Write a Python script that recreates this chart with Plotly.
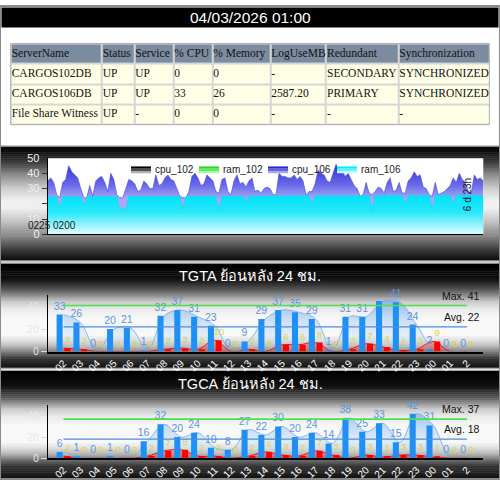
import plotly.graph_objects as go

W, H = 500, 485

# ---------------- data ----------------
title_text = "04/03/2026 01:00"

table_header = ["ServerName", "Status", "Service", "% CPU", "% Memory",
                "LogUseMB", "Redundant", "Synchronization"]
table_rows = [
    ["CARGOS102DB", "UP", "UP", "0", "0", "-", "SECONDARY", "SYNCHRONIZED"],
    ["CARGOS106DB", "UP", "UP", "33", "26", "2587.20", "PRIMARY", "SYNCHRONIZED"],
    ["File Share Witness", "UP", "-", "0", "0", "-", "-", "-"],
]

legend_names = ["cpu_102", "ram_102", "cpu_106", "ram_106"]
time_left_label = "0225 0200"
time_right_label = "6 d 23h"

cpu_106 = [35, 37, 34, 26, 24, 34, 36, 45, 41, 39, 37, 30, 24, 24, 32, 25, 35, 37, 38, 34,
           28, 40, 36, 26, 24, 24, 30, 36, 35, 33, 28, 29, 35, 33, 30, 30, 39, 32, 33, 37,
           39, 36, 35, 30, 25, 24, 24, 28, 38, 40, 37, 32, 33, 39, 37, 35, 28, 27, 36, 37,
           28, 26, 35, 39, 33, 34, 31, 35, 37, 28, 29, 27, 30, 31, 30, 26, 26, 40, 38, 38,
           37, 37, 39, 36, 38, 35, 26, 28, 28, 33, 42, 40, 39, 35, 34, 40, 46, 40, 42, 38,
           40, 36, 32, 30, 25, 26, 34, 27, 26, 28, 31, 30, 27, 34, 37, 28, 29, 34, 27, 27,
           35, 37, 41, 38, 39, 31, 30, 26, 25, 34, 26, 27, 28, 30, 32, 37, 34, 40, 36, 34,
           28, 27, 39, 36, 37, 35]

ram_106_idx = [0, 3, 4, 5, 11, 12, 13, 23, 24, 26, 27, 44, 45, 46, 56, 57, 58, 65, 66, 67,
               87, 88, 89, 107, 108, 109, 118, 119, 120, 127, 128, 129, 134, 135, 136, 145]
ram_106 = [24.5, 24.5, 17.5, 24.5, 24.6, 18.5, 24.6, 24.7, 16.5, 16.5, 24.7, 24.8, 16.5, 24.8,
           24.9, 15.5, 24.9, 25.0, 21.0, 25.0, 25.2, 19.7, 25.2, 25.3, 15.8, 25.3, 25.4, 19.7,
           25.4, 25.5, 16.0, 25.5, 25.5, 19.7, 25.5, 25.5]

hours = ["02", "03", "04", "05", "06", "07", "08", "09", "10", "11", "12", "13", "14",
         "15", "16", "17", "18", "19", "20", "21", "22", "23", "00", "01", "2"]

tgta_title = "TGTA ย้อนหลัง 24 ชม."
tgta_total = [33, 26, 0, 20, 21, 1, 32, 37, 31, 23, 0, 9, 29, 37, 35, 29, 1, 31, 31, 45, 44, 24, 2, 0, 0]
tgta_total_labels = ["33", "26", "0", "20", "21", "1", "32", "37", "31", "23", "0", "9", "29",
                     "37", "35", "29", "1", "31", "31", "", "41", "24", "2", "0", "0"]
tgta_fail = [3, 2, 0, 0, 0, 0, 2, 3, 2, 10, 0, 2, 0, 6, 6, 8, 0, 2, 7, 4, 1, 2, 9, 0, 0]
tgta_max, tgta_avg = 41, 22

tgca_title = "TGCA ย้อนหลัง 24 ชม."
tgca_total = [6, 1, 0, 1, 0, 16, 32, 20, 24, 10, 8, 27, 22, 30, 20, 24, 14, 38, 25, 33, 15, 42, 31, 0, 0]
tgca_fail = [2, 0, 0, 0, 0, 2, 7, 8, 2, 2, 0, 2, 6, 3, 2, 7, 3, 0, 3, 1, 3, 3, 1, 0, 0]
tgca_max, tgca_avg = 37, 18

# ---------------- helpers ----------------
def px(x):
    return x / W


def py(y):
    return 1 - y / H


FONT = "Liberation Sans, Arial, DejaVu Sans, Noto Sans, sans-serif"
SERIF = "Liberation Serif, Times New Roman, serif"

shapes = []
annotations = []


def gradient(y_top, y_bot, stops, step=2):
    y = y_top
    while y < y_bot:
        yc = y + step / 2
        g = stops[-1][1]
        for (a0, g0), (a1, g1) in zip(stops, stops[1:]):
            if a0 <= yc <= a1:
                g = g0 + (g1 - g0) * (yc - a0) / (a1 - a0)
                break
        g = int(round(g))
        shapes.append(dict(type="rect", xref="paper", yref="paper", layer="below",
                           x0=0, x1=1, y0=py(min(y + step + 0.6, y_bot)), y1=py(y),
                           fillcolor=f"rgb({g},{g},{g})", line=dict(width=0)))
        y += step


# outer page pieces
shapes.append(dict(type="rect", xref="paper", yref="paper", layer="below",
                   x0=px(1.5), x1=px(498.5), y0=py(22), y1=py(1.5),
                   fillcolor="black", line=dict(width=0)))

# panel backgrounds
gradient(144, 261, [(144, 5), (150, 15), (160, 60), (173, 140), (187, 205), (200, 240),
                    (207, 240), (220, 200), (237, 130), (250, 60), (261, 10)])
gradient(264, 371, [(264, 0), (280, 16), (290, 80), (297, 144), (303, 200), (310, 232),
                    (320, 248), (337, 248), (343, 224), (350, 176), (357, 96), (363, 48),
                    (371, 16)])
gradient(374, 485, [(374, 0), (390, 16), (400, 80), (407, 144), (413, 200), (420, 232),
                    (430, 248), (447, 248), (453, 224), (460, 176), (467, 96), (473, 48),
                    (485, 16)])
for (t, b) in [(143.5, 261.5), (263.5, 371.5), (373.5, 485)]:
    shapes.append(dict(type="rect", xref="paper", yref="paper", layer="below",
                       x0=px(0.5), x1=px(499.5), y0=py(b), y1=py(t),
                       fillcolor="rgba(0,0,0,0)", line=dict(color="#9A9A9A", width=1)))

shapes.append(dict(type="rect", xref="paper", yref="paper", layer="above",
                   x0=0, x1=1, y0=0, y1=1,
                   fillcolor="rgba(0,0,0,0)", line=dict(color="#8A8A8A", width=2)))

annotations.append(dict(text=title_text, xref="paper", yref="paper", x=0.5, y=py(12),
                        xanchor="center", yanchor="middle", showarrow=False,
                        font=dict(family=FONT, size=15.5, color="white")))

fig = go.Figure()

# ---------------- table (x4 / y6) ----------------
col_widths = [91, 32.6, 39, 39, 58, 55.7, 72.3, 91]
edges = [0]
for w_ in col_widths:
    edges.append(edges[-1] + w_)
all_rows = [table_header] + table_rows
zflag = [[1 if r == 0 else 0 for _ in table_header] for r in range(len(all_rows))]
shapes.append(dict(type="rect", xref="x4 domain", yref="y6 domain", layer="below",
                   x0=0, x1=1, y0=0, y1=1, fillcolor="#D6D6D6",
                   line=dict(color="#AEAEAE", width=1)))
fig.add_trace(go.Heatmap(x=edges, y=list(range(len(all_rows))), z=zflag,
                         colorscale=[[0, "#FFFFE6"], [1, "#7B8CA1"]], zmin=0, zmax=1,
                         showscale=False, xgap=2, ygap=2, hoverinfo="skip",
                         xaxis="x4", yaxis="y6"))
tx, ty, tt = [], [], []
for r, row in enumerate(all_rows):
    for c, val in enumerate(row):
        tx.append(edges[c] + 1)
        ty.append(r)
        tt.append(val)
fig.add_trace(go.Scatter(x=tx, y=ty, text=tt, mode="text", textposition="middle right",
                         textfont=dict(family=SERIF, size=11.5, color="#111111"),
                         hoverinfo="skip", xaxis="x4", yaxis="y6"))

# ---------------- chart 1 (x / y) ----------------
shapes.append(dict(type="rect", xref="x domain", yref="y domain", layer="below",
                   x0=0, x1=1, y0=0, y1=1, fillcolor="white", line=dict(width=0)))
idx = list(range(len(cpu_106)))
fig.add_trace(go.Scatter(x=idx, y=cpu_106, mode="lines", fill="tozeroy",
                         line=dict(color="#4444E0", width=0.6),
                         fillgradient=dict(type="vertical", start=24, stop=46,
                                           colorscale=[[0, "#A8A8F4"], [0.4, "#6A6AE8"],
                                                       [1, "#3030D8"]]),
                         hoverinfo="skip", xaxis="x", yaxis="y"))
fig.add_trace(go.Scatter(x=ram_106_idx, y=ram_106, mode="lines", fill="tozeroy",
                         line=dict(color="#00E2F8", width=0.6),
                         fillgradient=dict(type="vertical", start=0, stop=25.5,
                                           colorscale=[[0, "#F0FFFF"], [0.3, "#90F2FC"],
                                                       [0.6, "#28E8F9"], [1, "#00E2F8"]]),
                         hoverinfo="skip", xaxis="x", yaxis="y"))

# legend of chart 1
swatches = [
    (131, ["#000000", "#505050", "#B0B0B0"]),
    (199, ["#20E020", "#60EC60", "#B0F6B0"]),
    (268, ["#2A2AC8", "#6060E0", "#A8A8F2"]),
    (337, ["#00EEFF", "#60F4FF", "#C0FCFF"]),
]
for name, (sx, cols) in zip(legend_names, swatches):
    for k, col in enumerate(cols):
        shapes.append(dict(type="rect", xref="paper", yref="paper", layer="above",
                           x0=px(sx), x1=px(sx + 20), y0=py(164.5 + (k + 1) * 7 / 3),
                           y1=py(164.5 + k * 7 / 3), fillcolor=col, line=dict(width=0)))
    annotations.append(dict(text=name, xref="paper", yref="paper", x=px(sx + 22), y=py(168),
                            xanchor="left", yanchor="middle", showarrow=False,
                            font=dict(family=FONT, size=10, color="#222222")))
annotations.append(dict(text=time_left_label, xref="paper", yref="paper", x=px(26), y=py(225),
                        xanchor="left", yanchor="middle", showarrow=False,
                        font=dict(family=FONT, size=10, color="#1A1A1A")))
annotations.append(dict(text=time_right_label, xref="paper", yref="paper", x=px(467), y=py(194),
                        xanchor="center", yanchor="middle", showarrow=False, textangle=-90,
                        font=dict(family=FONT, size=10, color="#1A1A1A")))


# ---------------- TGTA / TGCA ----------------
def hourly(xa, ya, yb, title, title_y, total, total_labels, fail, vmax, vavg):
    top = max(total)
    fig.add_trace(go.Scatter(x=hours, y=total, mode="lines", line_shape="spline",
                             fill="tozeroy", line=dict(color="rgba(120,175,235,0.85)", width=1),
                             fillgradient=dict(type="vertical", start=0, stop=top,
                                               colorscale=[[0, "rgba(210,230,250,0.1)"],
                                                           [1, "rgba(110,172,238,0.65)"]]),
                             hoverinfo="skip", xaxis=xa, yaxis=ya))
    fig.add_trace(go.Scatter(x=hours, y=fail, mode="lines", line_shape="spline",
                             fill="tozeroy", line=dict(color="rgba(225,0,0,0.8)", width=1),
                             fillcolor="rgba(255,40,40,0.35)",
                             hoverinfo="skip", xaxis=xa, yaxis=ya))
    fig.add_trace(go.Bar(x=hours, y=total, offset=-0.41, width=0.36,
                         marker=dict(color="#1E8FF5", line=dict(width=0)),
                         text=total_labels, textposition="outside", textangle=0,
                         constraintext="none", cliponaxis=False,
                         textfont=dict(family=FONT, size=10.5, color="#5A96DC"),
                         hoverinfo="skip", xaxis=xa, yaxis=yb))
    fig.add_trace(go.Bar(x=hours, y=fail, offset=0.05, width=0.36,
                         marker=dict(color="#FF0000", line=dict(width=0)),
                         text=[str(v) for v in fail], textposition="outside", textangle=0,
                         constraintext="none", cliponaxis=False,
                         textfont=dict(family=FONT, size=9.5, color="#DCD43C"),
                         hoverinfo="skip", xaxis=xa, yaxis=yb))
    fig.add_trace(go.Scatter(x=[hours[0], hours[-1]], y=[vmax, vmax], mode="lines",
                             line=dict(color="#4CE04C", width=1.6),
                             hoverinfo="skip", xaxis=xa, yaxis=yb))
    fig.add_trace(go.Scatter(x=[hours[0], hours[-1]], y=[vavg, vavg], mode="lines",
                             line=dict(color="#4A8EE0", width=1.2),
                             hoverinfo="skip", xaxis=xa, yaxis=yb))
    annotations.append(dict(text=title, xref="paper", yref="paper", x=0.5, y=py(title_y),
                            xanchor="center", yanchor="middle", showarrow=False,
                            font=dict(family=FONT, size=14.5, color="white")))
    for lab, v in (("Max. ", vmax), ("Avg. ", vavg)):
        annotations.append(dict(text=f"{lab}{v}", xref=xa + " domain", yref=yb,
                                x=1, y=v, xanchor="right", yanchor="bottom", xshift=-1,
                                yshift=2, showarrow=False,
                                font=dict(family=FONT, size=10.5, color="#111111")))


hourly("x2", "y2", "y3", tgta_title, 276.5, tgta_total, tgta_total_labels, tgta_fail,
       tgta_max, tgta_avg)
hourly("x3", "y4", "y5", tgca_title, 388, tgca_total, [str(v) for v in tgca_total],
       tgca_fail, tgca_max, tgca_avg)

xdom = [px(47.7), px(483.3)]
cat_range = [-0.94, 24.97]


def cat_xaxis(anchor):
    return dict(domain=xdom, type="category", categoryorder="array", categoryarray=hours,
                range=cat_range, tickangle=-45, ticks="", showgrid=False, zeroline=False,
                showline=True, linecolor="black", linewidth=2, anchor=anchor,
                tickfont=dict(family=FONT, size=10, color="white"), fixedrange=True)


def val_yaxis(dom, anchor):
    return dict(domain=dom, range=[0, 50], tickvals=[0, 20, 40], ticks="outside", ticklen=6,
                tickcolor="#DDDDDD", showgrid=False, zeroline=False, showline=True,
                linecolor="black", linewidth=1, anchor=anchor,
                tickfont=dict(family=FONT, size=10, color="#E8E8E8"), fixedrange=True)


fig.update_layout(
    width=W, height=H, margin=dict(l=0, r=0, t=0, b=0),
    paper_bgcolor="white", plot_bgcolor="rgba(0,0,0,0)",
    showlegend=False, barmode="overlay",
    shapes=shapes, annotations=annotations,
    xaxis=dict(domain=xdom, range=[0, len(cpu_106) - 1], showline=True, linecolor="black",
               linewidth=1, showticklabels=False, ticks="", showgrid=False, zeroline=False,
               anchor="y", fixedrange=True),
    yaxis=dict(domain=[py(234), py(156)], range=[0, 50], dtick=10, tick0=0, ticks="outside",
               ticklen=5, tickcolor="#333333", showgrid=False, zeroline=False, showline=True,
               linecolor="black", anchor="x",
               tickfont=dict(family=FONT, size=11, color="#EEEEEE"), fixedrange=True),
    xaxis2=cat_xaxis("y2"),
    yaxis2=val_yaxis([py(354.3), py(296.8)], "x2"),
    yaxis3=dict(overlaying="y2", range=[0, 50], visible=False, anchor="x2", fixedrange=True),
    xaxis3=cat_xaxis("y4"),
    yaxis4=val_yaxis([py(463.7), py(409.45)], "x3"),
    yaxis5=dict(overlaying="y4", range=[0, 50], visible=False, anchor="x3", fixedrange=True),
    xaxis4=dict(domain=[px(10.7), px(489.3)], range=[0, edges[-1]], visible=False,
                anchor="y6", fixedrange=True),
    yaxis6=dict(domain=[py(121.7), py(38.5)], range=[len(all_rows) - 0.5, -0.5],
                visible=False, anchor="x4", fixedrange=True),
)

fig.write_html("out.html")
